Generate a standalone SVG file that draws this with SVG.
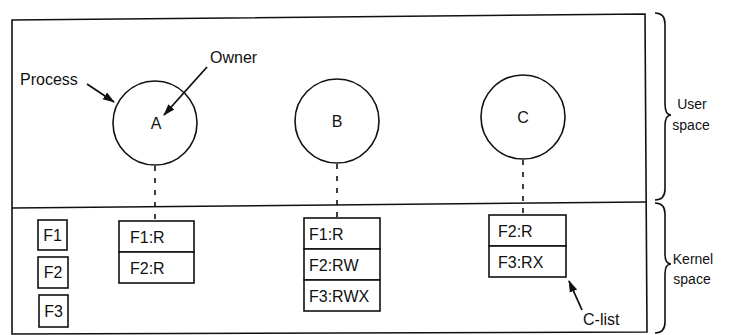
<svg xmlns="http://www.w3.org/2000/svg" width="733" height="335" viewBox="0 0 733 335">
<defs>
<style>
.ln{fill:none;stroke:#111;stroke-width:1.6}
.bx{fill:#fff;stroke:#111;stroke-width:1.6}
.t{font-family:"Liberation Sans",Arial,sans-serif;font-size:16px;fill:#111}
.s{font-family:"Liberation Sans",Arial,sans-serif;font-size:14px;fill:#111}
.dash{fill:none;stroke:#111;stroke-width:1.6;stroke-dasharray:5 7}
.arr{fill:none;stroke:#111;stroke-width:1.8;marker-end:url(#ah)}
</style>
<marker id="ah" viewBox="0 0 12 10" refX="11" refY="5" markerWidth="12" markerHeight="10" markerUnits="userSpaceOnUse" orient="auto">
<path d="M0,1 L12,5 L0,9 z" fill="#111"/>
</marker>
</defs>
<rect width="733" height="335" fill="#fff"/>
<g id="frame">
<path class="ln" d="M12,20 L645,14 L647,332 L12,334 Z"/>
<path class="ln" d="M12,208 L646,202"/>
</g>
<g id="connectors">
<line class="dash" x1="155" y1="166" x2="155" y2="221"/>
<line class="dash" x1="337" y1="164" x2="337" y2="218"/>
<line class="dash" x1="523" y1="160" x2="523" y2="215"/>
<line class="arr" x1="87" y1="84" x2="114" y2="102"/>
<line class="arr" x1="207" y1="67" x2="164" y2="115"/>
<line class="arr" x1="582" y1="310" x2="569" y2="281"/>
</g>
<g id="procA">
<circle class="ln" cx="155" cy="123" r="42"/>
<text class="t" x="156" y="129" text-anchor="middle">A</text>
</g>
<g id="procB">
<circle class="ln" cx="337" cy="121" r="42"/>
<text class="t" x="337" y="127" text-anchor="middle">B</text>
</g>
<g id="procC">
<circle class="ln" cx="523" cy="117" r="42"/>
<text class="t" x="523" y="123" text-anchor="middle">C</text>
</g>
<g id="labels">
<text class="t" x="20" y="85">Process</text>
<text class="t" x="210" y="63">Owner</text>
<text class="t" x="583" y="325">C-list</text>
</g>
<g id="clistA">
<rect class="bx" x="119" y="221" width="75" height="31"/>
<rect class="bx" x="119" y="252" width="75" height="31"/>
<text class="t" x="130" y="243">F1:R</text>
<text class="t" x="130" y="274">F2:R</text>
</g>
<g id="clistB">
<rect class="bx" x="304" y="218" width="76" height="31"/>
<rect class="bx" x="304" y="249" width="76" height="31"/>
<rect class="bx" x="304" y="280" width="76" height="31"/>
<text class="t" x="309" y="240">F1:R</text>
<text class="t" x="309" y="271">F2:RW</text>
<text class="t" x="309" y="302">F3:RWX</text>
</g>
<g id="clistC">
<rect class="bx" x="489" y="215" width="77" height="31"/>
<rect class="bx" x="489" y="246" width="77" height="31"/>
<text class="t" x="498" y="237">F2:R</text>
<text class="t" x="498" y="268">F3:RX</text>
</g>
<g id="F1">
<rect class="bx" x="38" y="220" width="29" height="30"/>
<text class="t" x="52.5" y="241" text-anchor="middle">F1</text>
</g>
<g id="F2">
<rect class="bx" x="38" y="257" width="30" height="31"/>
<text class="t" x="53" y="278" text-anchor="middle">F2</text>
</g>
<g id="F3">
<rect class="bx" x="39" y="295" width="29" height="32"/>
<text class="t" x="53.5" y="317" text-anchor="middle">F3</text>
</g>
<g id="userSpace">
<path class="ln" d="M655,13 Q665,13 665,24 L665,104 Q665,115 671,115 Q665,115 665,126 L665,189 Q665,200 655,200"/>
<text class="s" x="692" y="109" text-anchor="middle">User</text>
<text class="s" x="691" y="130" text-anchor="middle">space</text>
</g>
<g id="kernelSpace">
<path class="ln" d="M655,203 Q665,203 665,214 L665,254 Q665,264 671,264 Q665,264 665,274 L665,322 Q665,333 655,333"/>
<text class="s" x="693" y="264" text-anchor="middle">Kernel</text>
<text class="s" x="692" y="284" text-anchor="middle">space</text>
</g>
</svg>
